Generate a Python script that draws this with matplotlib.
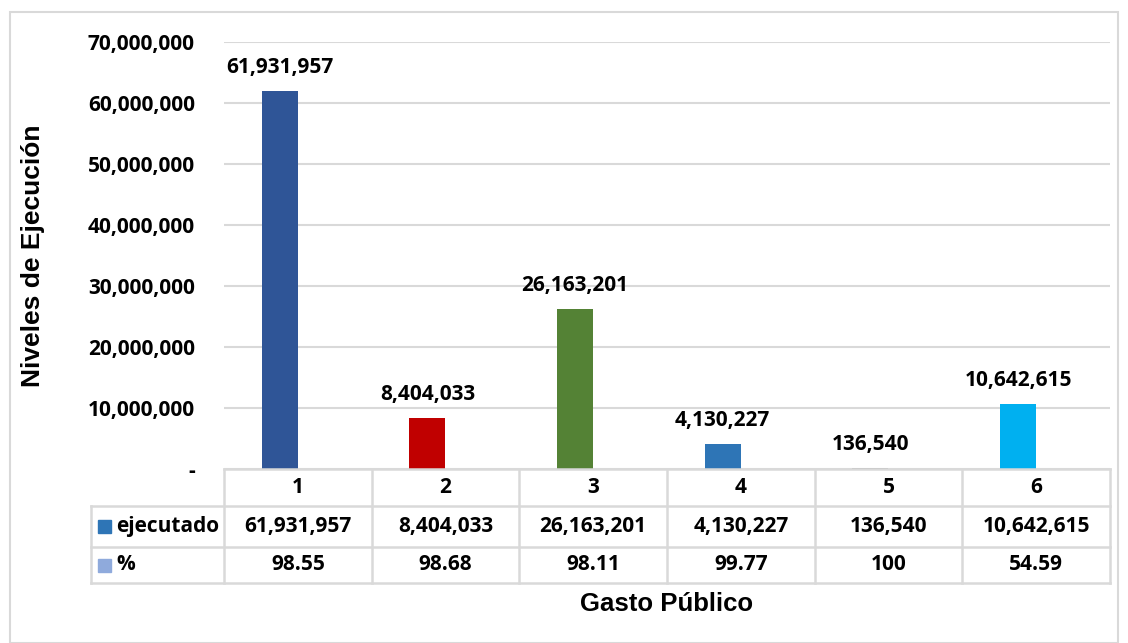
import numpy as np
import matplotlib.pyplot as plt
from matplotlib.patches import Rectangle

# Datos
categorias = ['1', '2', '3', '4', '5', '6']
ejecutado = [61931957, 8404033, 26163201, 4130227, 136540, 10642615]
porcentaje = [98.55, 98.68, 98.11, 99.77, 100, 54.59]
porcentaje_txt = ['98.55', '98.68', '98.11', '99.77', '100', '54.59']
colores = ['#2F5597', '#C00000', '#548235', '#2E75B6', '#A5A5A5', '#00B0F0']

W, H = 1128, 643
fig = plt.figure(figsize=(W / 100, H / 100), dpi=100)

fnum = 'Open Sans'
ftit = 'Liberation Sans'
fs = 15
grid_c = '#D9D9D9'

# Marco exterior
fig.patches.append(Rectangle((10 / W, 0), 1108 / W, 1 - 12 / H, transform=fig.transFigure,
                             fill=False, edgecolor=grid_c, linewidth=1.5))

# Ejes principales (pixeles: x 224-1110, y 42-469)
ax = fig.add_axes([224 / W, 1 - 469 / H, (1110 - 224) / W, (469 - 42) / H])
x = np.arange(len(categorias))
bw = 0.245
ax.bar(x - bw / 2, ejecutado, width=bw, color=colores, zorder=3)
ax.bar(x + bw / 2, porcentaje, width=bw, color='#8FAADC', zorder=3)
ax.set_xlim(-0.5, 5.5)
ax.set_ylim(0, 70000000)
ax.set_yticks(range(0, 70000001, 10000000))
ax.set_yticklabels(['-' if v == 0 else f'{v:,}' for v in range(0, 70000001, 10000000)],
                   fontfamily=fnum, fontweight='bold', fontsize=fs)
ax.tick_params(axis='y', length=0, pad=21)
ax.set_xticks([])
ax.grid(axis='y', color=grid_c, linewidth=1.5, zorder=0)
for s in ax.spines.values():
    s.set_visible(False)

for xi, v in zip(x, ejecutado):
    ax.annotate(f'{v:,}', (xi - bw / 2, v), xytext=(0, 17), textcoords='offset points',
                ha='center', va='center', fontfamily=fnum, fontweight='bold', fontsize=fs)

# Tabla de datos (pixeles: x 91-1110, y 469-583)
col_w = (1110 - 224) / 6
lab_w = (224 - 91) / col_w
tb = fig.add_axes([91 / W, 1 - 583 / H, (1110 - 91) / W, (583 - 469) / H])
tb.set_xlim(-0.5 - lab_w, 5.5)
row_h = [0, 37, 78, 114]  # bordes de filas en pixeles desde arriba
tb.set_ylim(114, 0)
tb.axis('off')
lk = dict(color=grid_c, linewidth=1.8, clip_on=False)
# lineas horizontales
tb.plot([-0.5, 5.5], [0, 0], **lk)
for yy in row_h[1:]:
    tb.plot([-0.5 - lab_w, 5.5], [yy, yy], **lk)
# lineas verticales
for i in range(7):
    tb.plot([i - 0.5, i - 0.5], [0, 114], **lk)
tb.plot([-0.5 - lab_w] * 2, [37, 114], **lk)

tfont = dict(fontfamily=fnum, fontweight='bold', fontsize=fs, ha='center', va='center')
for i, c in enumerate(categorias):
    tb.text(i, 18.5, c, **tfont)
    tb.text(i, 57.5, f'{ejecutado[i]:,}', **tfont)
    tb.text(i, 96, porcentaje_txt[i], **tfont)

# Leyenda en la tabla
kx = -0.5 - lab_w + 7 / col_w
ksz = 13 / col_w
tb.add_patch(Rectangle((kx, 57.5 - 6.5), ksz, 13, color='#2E75B6', clip_on=False))
tb.add_patch(Rectangle((kx, 96 - 6.5), ksz, 13, color='#8FAADC', clip_on=False))
tb.text(kx + ksz + 5 / col_w, 57.5, 'ejecutado', fontfamily=fnum, fontweight='bold',
        fontsize=fs, ha='left', va='center')
tb.text(kx + ksz + 5 / col_w, 96, '%', fontfamily=fnum, fontweight='bold',
        fontsize=fs, ha='left', va='center')

# Titulos de ejes
fig.text(667 / W, 1 - 604 / H, 'Gasto Público', fontfamily=ftit, fontweight='bold',
         fontsize=18.5, ha='center', va='center')
fig.text(33 / W, 1 - 256 / H, 'Niveles de Ejecución', fontfamily=ftit, fontweight='bold',
         fontsize=19, ha='center', va='center', rotation=90)

plt.savefig('out.png', dpi=100)
